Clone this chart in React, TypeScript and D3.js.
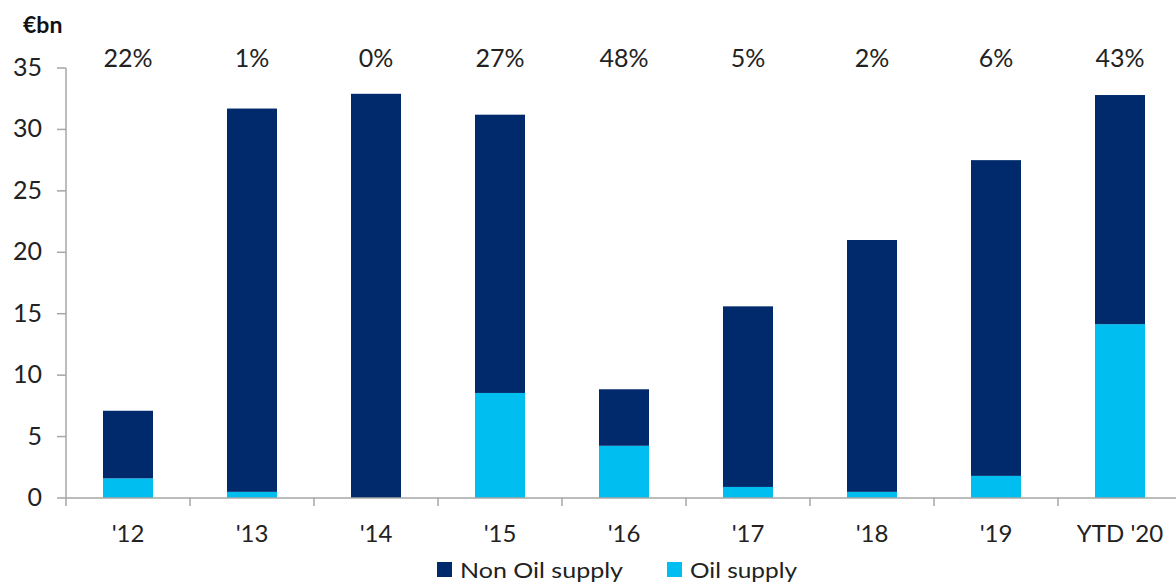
import React from "react";
import * as d3 from "d3";

const categories = ["'12", "'13", "'14", "'15", "'16", "'17", "'18", "'19", "YTD '20"];
const oilSupply = [1.6, 0.5, 0, 8.55, 4.25, 0.9, 0.5, 1.8, 14.15];
const totalSupply = [7.1, 31.7, 32.9, 31.2, 8.85, 15.6, 21.0, 27.5, 32.8];
const shareLabels = ["22%", "1%", "0%", "27%", "48%", "5%", "2%", "6%", "43%"];
const yTicks = [0, 5, 10, 15, 20, 25, 30, 35];
const seriesNames = ["Non Oil supply", "Oil supply"];
const colors = ["#002A6C", "#00BEF0"];

const W = 1176, H = 584;
const FONT = "Lato, 'Open Sans', sans-serif";

export default function App() {
  const x0 = 66, step = 124;
  const x = d3.scaleBand<string>().domain(categories).range([x0, x0 + step * categories.length]).paddingInner(0.5968).paddingOuter(0.2984);
  const y = d3.scaleLinear().domain([0, 35]).range([498, 68]);
  const rows = categories.map((c, i) => ({ c, oil: oilSupply[i], non: totalSupply[i] - oilSupply[i] }));
  const stack = d3.stack<any>().keys(["oil", "non"])(rows);
  const bw = 50;
  const boundaries = d3.range(categories.length + 1).map(i => x0 + i * step);
  return (
    <svg width={W} height={H} style={{ position: "absolute", left: 0, top: 0, background: "#fff" }} fontFamily={FONT}>
      <text x={23} y={33} fontSize={23} fontWeight="bold" fill="#111">€bn</text>
      {/* y axis */}
      <line x1={x0} x2={x0} y1={y(35)} y2={y(0)} stroke="#a6a6a6" strokeWidth={1.5} />
      {yTicks.map(t => (
        <g key={t}>
          <line x1={x0 - 9} x2={x0} y1={y(t)} y2={y(t)} stroke="#a6a6a6" strokeWidth={1.5} />
          <text x={42} y={y(t) + 8} textAnchor="end" fontSize={25} fill="#222">{t}</text>
        </g>
      ))}
      {/* bars */}
      {stack.map((s, si) => s.map((d, i) => {
        const cx = x(categories[i])! + x.bandwidth() / 2;
        const h = y(d[0]) - y(d[1]);
        if (h <= 0) return null;
        return <rect key={si + "-" + i} x={cx - bw / 2} y={y(d[1])} width={bw} height={h} fill={si === 0 ? colors[1] : colors[0]} />;
      }))}
      {/* x axis */}
      <line x1={x0} x2={W} y1={y(0)} y2={y(0)} stroke="#a6a6a6" strokeWidth={1.5} />
      {boundaries.map((b, i) => (
        <line key={i} x1={b} x2={b} y1={y(0)} y2={y(0) + 8} stroke="#a6a6a6" strokeWidth={1.5} />
      ))}
      {categories.map((c, i) => (
        <text key={c} x={x(c)! + x.bandwidth() / 2} y={542} textAnchor="middle" fontSize={24} fill="#222">{c}</text>
      ))}
      {categories.map((c, i) => (
        <text key={"p" + c} x={x(c)! + x.bandwidth() / 2} y={67} textAnchor="middle" fontSize={25} fill="#222">{shareLabels[i]}</text>
      ))}
      {/* legend */}
      <rect x={437} y={562} width={15} height={15} fill={colors[0]} />
      <text x={460} y={578} fontSize={22} fill="#222" textLength={163} lengthAdjust="spacingAndGlyphs">{seriesNames[0]}</text>
      <rect x={667} y={562} width={15} height={15} fill={colors[1]} />
      <text x={690} y={578} fontSize={22} fill="#222" textLength={107} lengthAdjust="spacingAndGlyphs">{seriesNames[1]}</text>
    </svg>
  );
}
